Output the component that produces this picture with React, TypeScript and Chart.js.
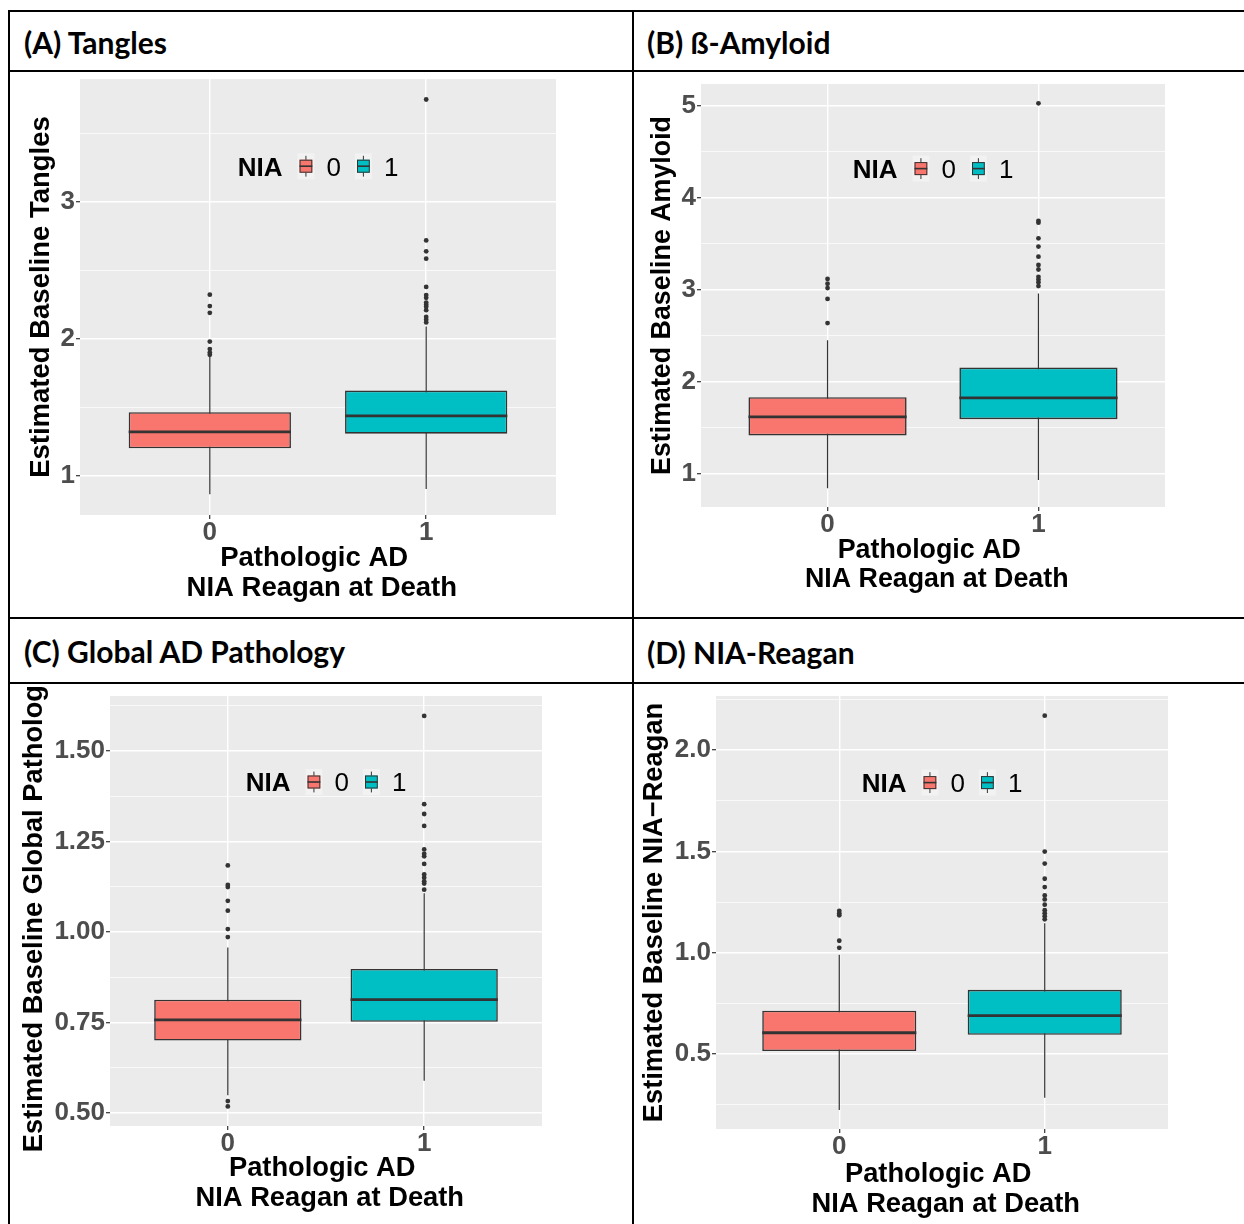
import React, { useEffect, useRef } from "react";
import { Chart, registerables } from "chart.js";

Chart.register(...registerables);

// ---------- data ----------
const categories = ["0", "1"];
const legendTitle = "NIA";
const fillColors = ["#F8766D", "#00BFC4"];

// (A) Tangles
const tanglesQ1 = [1.2, 1.307];
const tanglesMedian = [1.32, 1.437];
const tanglesQ3 = [1.464, 1.622];
const tanglesLower = [0.864, 0.903];
const tanglesUpper = [1.87, 2.09];
const tanglesOutliers0 = [1.883, 1.9, 1.925, 1.98, 2.19, 2.24, 2.323];
const tanglesOutliers1 = [2.12, 2.14, 2.16, 2.21, 2.235, 2.25, 2.265, 2.3, 2.32, 2.38, 2.586, 2.64, 2.72, 3.75];
const tanglesTicks = [1, 2, 3];
const tanglesTickLabels = ["1", "2", "3"];
const tanglesMinorTicks = [1.5, 2.5, 3.5];

// (B) ß-Amyloid
const amyloidQ1 = [1.413, 1.59];
const amyloidMedian = [1.615, 1.822];
const amyloidQ3 = [1.829, 2.152];
const amyloidLower = [0.837, 0.927];
const amyloidUpper = [2.449, 2.96];
const amyloidOutliers0 = [2.637, 2.9, 3.018, 3.065, 3.117];
const amyloidOutliers1 = [3.04, 3.08, 3.11, 3.14, 3.22, 3.27, 3.36, 3.47, 3.56, 3.73, 3.75, 5.03];
const amyloidTicks = [1, 2, 3, 4, 5];
const amyloidTickLabels = ["1", "2", "3", "4", "5"];
const amyloidMinorTicks = [1.5, 2.5, 3.5, 4.5];

// (C) Global AD Pathology
const globalQ1 = [0.7, 0.752];
const globalMedian = [0.757, 0.813];
const globalQ3 = [0.813, 0.898];
const globalLower = [0.549, 0.589];
const globalUpper = [0.957, 1.107];
const globalOutliers0 = [0.518, 0.533, 0.986, 1.008, 1.059, 1.086, 1.124, 1.13, 1.184];
const globalOutliers1 = [1.117, 1.134, 1.14, 1.15, 1.159, 1.188, 1.209, 1.216, 1.228, 1.293, 1.326, 1.353, 1.597];
const globalTicks = [0.5, 0.75, 1, 1.25, 1.5];
const globalTickLabels = ["0.50", "0.75", "1.00", "1.25", "1.50"];
const globalMinorTicks = [0.625, 0.875, 1.125, 1.375, 1.625];

// (D) NIA-Reagan
const reaganQ1 = [0.515, 0.595];
const reaganMedian = [0.605, 0.69];
const reaganQ3 = [0.714, 0.817];
const reaganLower = [0.224, 0.284];
const reaganUpper = [0.99, 1.145];
const reaganOutliers0 = [1.024, 1.059, 1.185, 1.195, 1.207];
const reaganOutliers1 = [1.165, 1.18, 1.195, 1.21, 1.237, 1.263, 1.283, 1.324, 1.365, 1.44, 1.499, 2.17];
const reaganTicks = [0.5, 1, 1.5, 2];
const reaganTickLabels = ["0.5", "1.0", "1.5", "2.0"];
const reaganMinorTicks = [0.25, 0.75, 1.25, 1.75, 2.25];

const xTitle = ["Pathologic AD ", " NIA Reagan at Death"];

// ---------- styling ----------
const FONT = "'Liberation Sans', Arial, Helvetica, sans-serif";
const HEADER_FONT = "Lato, 'Open Sans', sans-serif";
const BOX_HALF = 0.375;

type Spec = {
  header: string;
  headerLeft: number;
  headerTop: number;
  rect: { left: number; top: number; width: number; height: number };
  padTop: number;
  padRight: number;
  yAxisWidth: number;
  xAxisHeight: number;
  yTitlePad: number;
  xTitlePad: number;
  titleSize: number;
  yMin: number;
  yMax: number;
  yTitle: string;
  q1: number[];
  median: number[];
  q3: number[];
  lower: number[];
  upper: number[];
  out0: number[];
  out1: number[];
  ticks: number[];
  tickLabels: string[];
  minor: number[];
};

const panels: Spec[] = [
  {
    header: "(A) Tangles", headerLeft: 24, headerTop: 27,
    rect: { left: 10, top: 73, width: 620, height: 543 },
    padTop: 6, padRight: 74, yAxisWidth: 70, xAxisHeight: 101,
    yTitlePad: 16, xTitlePad: 13, titleSize: 27.5,
    yMin: 0.712, yMax: 3.9, yTitle: "Estimated Baseline Tangles",
    q1: tanglesQ1, median: tanglesMedian, q3: tanglesQ3, lower: tanglesLower, upper: tanglesUpper,
    out0: tanglesOutliers0, out1: tanglesOutliers1,
    ticks: tanglesTicks, tickLabels: tanglesTickLabels, minor: tanglesMinorTicks,
  },
  {
    header: "(B) ß-Amyloid", headerLeft: 647, headerTop: 27,
    rect: { left: 634, top: 73, width: 610, height: 543 },
    padTop: 11, padRight: 79, yAxisWidth: 67, xAxisHeight: 109,
    yTitlePad: 14, xTitlePad: 22, titleSize: 26.8,
    yMin: 0.634, yMax: 5.24, yTitle: "Estimated Baseline Amyloid",
    q1: amyloidQ1, median: amyloidMedian, q3: amyloidQ3, lower: amyloidLower, upper: amyloidUpper,
    out0: amyloidOutliers0, out1: amyloidOutliers1,
    ticks: amyloidTicks, tickLabels: amyloidTickLabels, minor: amyloidMinorTicks,
  },
  {
    header: "(C) Global AD Pathology", headerLeft: 24, headerTop: 636,
    rect: { left: 10, top: 685, width: 620, height: 539 },
    padTop: 11, padRight: 88, yAxisWidth: 100, xAxisHeight: 98,
    yTitlePad: 10, xTitlePad: 11, titleSize: 27.3,
    yMin: 0.464, yMax: 1.652, yTitle: "Estimated Baseline Global Pathology",
    q1: globalQ1, median: globalMedian, q3: globalQ3, lower: globalLower, upper: globalUpper,
    out0: globalOutliers0, out1: globalOutliers1,
    ticks: globalTicks, tickLabels: globalTickLabels, minor: globalMinorTicks,
  },
  {
    header: "(D) NIA-Reagan", headerLeft: 647, headerTop: 637,
    rect: { left: 634, top: 685, width: 610, height: 539 },
    padTop: 11, padRight: 76, yAxisWidth: 82, xAxisHeight: 95,
    yTitlePad: 6, xTitlePad: 5, titleSize: 27.3,
    yMin: 0.13, yMax: 2.267, yTitle: "Estimated Baseline NIA\u2212Reagan",
    q1: reaganQ1, median: reaganMedian, q3: reaganQ3, lower: reaganLower, upper: reaganUpper,
    out0: reaganOutliers0, out1: reaganOutliers1,
    ticks: reaganTicks, tickLabels: reaganTickLabels, minor: reaganMinorTicks,
  },
];

const panelBg = {
  id: "panelBg",
  beforeDraw(chart: any) {
    const { ctx, chartArea: a } = chart;
    ctx.save();
    ctx.fillStyle = "#EBEBEB";
    ctx.fillRect(a.left, a.top, a.right - a.left, a.bottom - a.top);
    ctx.restore();
  },
};

function drawKey(ctx: CanvasRenderingContext2D, x: number, y: number, w: number, h: number, fill: string) {
  ctx.fillStyle = "#F2F2F2";
  ctx.fillRect(x, y, w, h);
  const cx = x + w / 2;
  ctx.strokeStyle = "#333333";
  ctx.lineWidth = 1;
  ctx.beginPath();
  ctx.moveTo(cx, y + 0.1 * h);
  ctx.lineTo(cx, y + 0.9 * h);
  ctx.stroke();
  const bx = x + 0.125 * w, bw = 0.75 * w, by = y + 0.25 * h, bh = 0.5 * h;
  ctx.fillStyle = fill;
  ctx.fillRect(bx, by, bw, bh);
  ctx.strokeRect(bx + 0.5, by + 0.5, bw - 1, bh - 1);
  ctx.lineWidth = 1.6;
  ctx.beginPath();
  ctx.moveTo(bx, y + h / 2);
  ctx.lineTo(bx + bw, y + h / 2);
  ctx.stroke();
}

const niaLegend = {
  id: "niaLegend",
  afterDraw(chart: any) {
    const { ctx, chartArea: a } = chart;
    const fs = 26;
    const cx = (a.left + a.right) / 2;
    const cy = a.top + 0.2 * (a.bottom - a.top);
    const bold = `bold ${fs}px ${FONT}`;
    const normal = `${fs}px ${FONT}`;
    ctx.save();
    ctx.font = bold;
    const wT = ctx.measureText(legendTitle).width;
    ctx.font = normal;
    const widths = categories.map((c) => ctx.measureText(c).width);
    const keyW = 17, keyH = 26, gapTitle = 15, gapKeyLabel = 12, gapItem = 14;
    const total = wT + gapTitle + categories.length * (keyW + gapKeyLabel) + widths.reduce((s, v) => s + v, 0) + gapItem * (categories.length - 1);
    let x = cx - total / 2;
    const base = cy + (fs * 0.716) / 2;
    ctx.textAlign = "left";
    ctx.textBaseline = "alphabetic";
    ctx.fillStyle = "#000000";
    ctx.font = bold;
    ctx.fillText(legendTitle, x, base);
    x += wT + gapTitle;
    categories.forEach((c, i) => {
      drawKey(ctx, x, cy - keyH / 2, keyW, keyH, fillColors[i]);
      x += keyW + gapKeyLabel;
      ctx.font = normal;
      ctx.fillStyle = "#000000";
      ctx.fillText(c, x, base);
      x += widths[i] + gapItem;
    });
    ctx.restore();
  },
};

function near(list: number[], v: number) {
  return list.findIndex((m) => Math.abs(m - v) < 1e-6);
}

function zeroPad(s: any) {
  s.paddingLeft = 0;
  s.paddingRight = 0;
  s.paddingTop = 0;
  s.paddingBottom = 0;
}

function buildChart(canvas: HTMLCanvasElement, p: Spec) {
  const titleFont = { family: FONT, size: p.titleSize, weight: "bold" as const, lineHeight: 1.09 };
  const tickFont = { family: FONT, size: 26, weight: "bold" as const };
  const pos = categories.map((_, i) => i + 1);

  const whiskers: any[] = [];
  const medians: any[] = [];
  pos.forEach((x, i) => {
    if (i > 0) {
      whiskers.push({ x: x - 0.5, y: null });
      medians.push({ x: x - 0.5, y: null });
    }
    whiskers.push({ x, y: p.lower[i] }, { x, y: p.upper[i] });
    medians.push({ x: x - BOX_HALF, y: p.median[i] }, { x: x + BOX_HALF, y: p.median[i] });
  });
  const boxes = pos.map((x, i) => ({ x, y: [p.q1[i], p.q3[i]] }));
  const outliers = [
    ...p.out0.map((v) => ({ x: pos[0], y: v })),
    ...p.out1.map((v) => ({ x: pos[1], y: v })),
  ];
  const allYTicks = [...p.ticks, ...p.minor].sort((a, b) => a - b);

  return new Chart(canvas, {
    type: "bar",
    data: {
      datasets: [
        {
          type: "line",
          data: whiskers,
          borderColor: "#333333",
          borderWidth: 1.2,
          pointRadius: 0,
          spanGaps: false,
          order: 3,
        } as any,
        {
          type: "bar",
          data: boxes,
          backgroundColor: fillColors,
          borderColor: "#333333",
          borderWidth: 1.6,
          borderSkipped: false,
          barPercentage: BOX_HALF * 2,
          categoryPercentage: 1,
          order: 2,
        } as any,
        {
          type: "line",
          data: medians,
          borderColor: "#333333",
          borderWidth: 2.8,
          pointRadius: 0,
          spanGaps: false,
          order: 1,
        } as any,
        {
          type: "scatter",
          data: outliers,
          pointRadius: 2.4,
          pointBackgroundColor: "#333333",
          pointBorderWidth: 0,
          order: 0,
        } as any,
      ],
    },
    options: {
      responsive: false,
      animation: false,
      events: [],
      layout: { padding: { left: 0, top: p.padTop, right: p.padRight, bottom: 0 } },
      plugins: { legend: { display: false }, tooltip: { enabled: false } },
      scales: {
        x: {
          type: "linear",
          min: 0.4,
          max: 2.6,
          offset: false,
          afterBuildTicks: (s: any) => {
            s.ticks = pos.map((v) => ({ value: v }));
          },
          afterFit: (s: any) => {
            s.height = p.xAxisHeight;
            zeroPad(s);
          },
          ticks: {
            autoSkip: false,
            maxRotation: 0,
            padding: -2,
            color: "#4D4D4D",
            font: tickFont,
            callback: (v: any) => categories[Math.round(Number(v)) - 1] ?? "",
          },
          grid: { color: "#FFFFFF", lineWidth: 1.4, tickColor: "#333333", tickLength: 4, tickWidth: 1.2, offset: false },
          border: { display: false },
          title: { display: true, text: xTitle, font: titleFont, color: "#000000", padding: { top: 0, bottom: p.xTitlePad } },
        },
        y: {
          type: "linear",
          min: p.yMin,
          max: p.yMax,
          beginAtZero: false,
          afterBuildTicks: (s: any) => {
            s.ticks = allYTicks.map((v) => ({ value: v }));
          },
          afterFit: (s: any) => {
            s.width = p.yAxisWidth;
            zeroPad(s);
          },
          ticks: {
            autoSkip: false,
            padding: 1,
            color: "#4D4D4D",
            font: tickFont,
            callback: (v: any) => {
              const i = near(p.ticks, Number(v));
              return i >= 0 ? p.tickLabels[i] : "";
            },
          },
          grid: {
            color: "#FFFFFF",
            lineWidth: (c: any) => (c.tick && near(p.ticks, c.tick.value) >= 0 ? 1.4 : 0.7),
            tickColor: (c: any) => (c.tick && near(p.ticks, c.tick.value) >= 0 ? "#333333" : "rgba(0,0,0,0)"),
            tickLength: 4,
            tickWidth: 1.2,
          },
          border: { display: false },
          title: { display: true, text: p.yTitle, font: titleFont, color: "#000000", padding: { top: p.yTitlePad, bottom: 0 } },
        },
      },
    } as any,
    plugins: [panelBg, niaLegend],
  });
}

function Panel({ spec }: { spec: Spec }) {
  const ref = useRef<HTMLCanvasElement | null>(null);
  useEffect(() => {
    if (!ref.current) return;
    const chart = buildChart(ref.current, spec);
    return () => chart.destroy();
  }, [spec]);
  const r = spec.rect;
  return (
    <>
      <div
        style={{
          position: "absolute",
          left: spec.headerLeft,
          top: spec.headerTop,
          fontFamily: HEADER_FONT,
          fontWeight: 700,
          fontSize: 30,
          lineHeight: "30px",
          color: "#000",
          whiteSpace: "nowrap",
        }}
      >
        {spec.header}
      </div>
      <canvas
        ref={ref}
        width={r.width}
        height={r.height}
        style={{ position: "absolute", left: r.left, top: r.top, width: r.width, height: r.height }}
      />
    </>
  );
}

function Line({ l, t, w, h }: { l: number; t: number; w: number; h: number }) {
  return <div style={{ position: "absolute", left: l, top: t, width: w, height: h, background: "#000" }} />;
}

export default function App() {
  return (
    <div style={{ position: "absolute", left: 0, top: 0, width: 1244, height: 1224, background: "#fff", overflow: "hidden" }}>
      <Line l={8} t={10} w={1236} h={2} />
      <Line l={8} t={70} w={1236} h={2} />
      <Line l={8} t={617} w={1236} h={2} />
      <Line l={8} t={682} w={1236} h={2} />
      <Line l={8} t={10} w={2} h={1214} />
      <Line l={632} t={10} w={2} h={1214} />
      {panels.map((p) => (
        <Panel key={p.header} spec={p} />
      ))}
    </div>
  );
}
